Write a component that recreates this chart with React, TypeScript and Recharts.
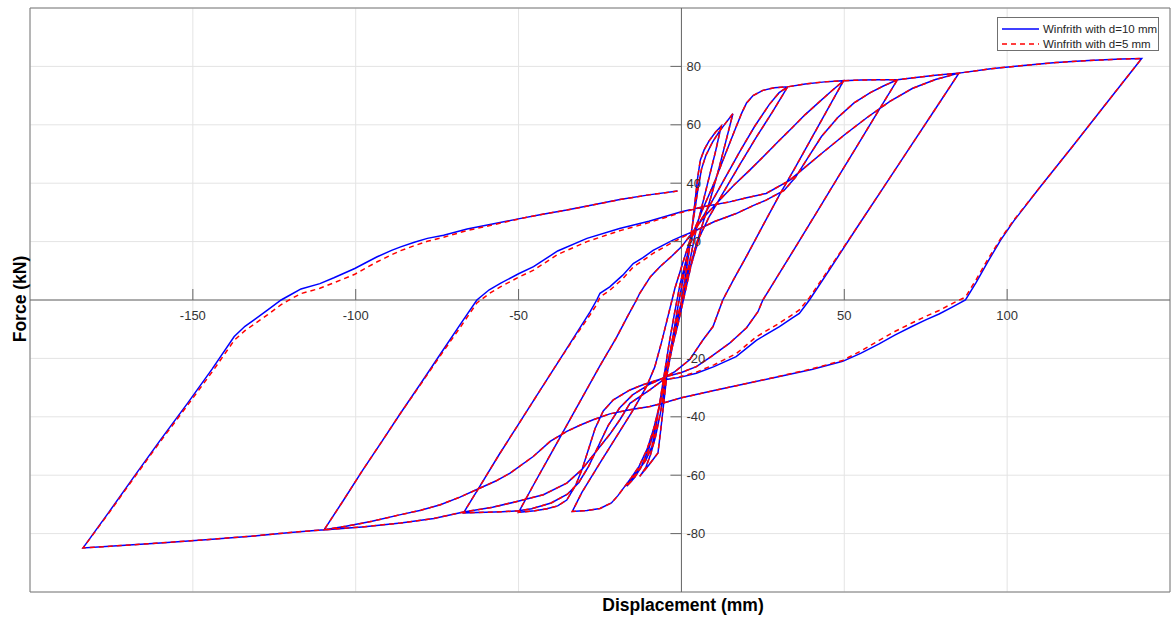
import React from 'react';
import { LineChart, Line, XAxis, YAxis, CartesianGrid, ReferenceLine, ReferenceArea } from 'recharts';

type P = [number, number];

const xTicks = [-150, -100, -50, 0, 50, 100];
const yTicks = [-80, -60, -40, -20, 0, 20, 40, 60, 80];
const xDomain: [number, number] = [-200, 150];
const yDomain: [number, number] = [-100, 100];
const seriesNames = ['Winfrith with d=10 mm', 'Winfrith with d=5 mm'];

// ---- d=10 mm branches (displacement mm, force kN) ----
const L0: P[] = [[0,0],[1.5,10],[3,22],[4.2,34],[5,42],[5.8,47.9],[7,51.5],[8.5,54.5],[10.5,57.5],[12.2,59.5]];
const U1: P[] = [[12.2,59.5],[10.5,51],[8.5,42],[6.5,33],[4.5,24],[2.5,13],[0.5,2],[-1.5,-9],[-3.5,-20],[-5,-29],[-6.5,-39],[-8,-47],[-9.5,-53],[-11,-57.5],[-12.8,-60.4]];
const R1: P[] = [[-12.8,-60.4],[-10,-56.5],[-7.2,-52.4],[-6.3,-44],[-5.4,-35],[-4.5,-26],[-3,-15],[-1.2,-3],[0.8,9],[2.6,20],[4,30],[5.2,39],[6.2,45],[7.5,49.5],[9.5,54],[11.5,57.5],[13.5,60.5],[15.8,63.8]];
const U2: P[] = [[15.8,63.8],[13.8,55],[11.5,45],[9,35],[6.5,26],[4,17],[1.5,6],[-1,-5],[-3,-15],[-4.8,-25],[-6.3,-34],[-8,-43],[-10,-51],[-12.5,-57.5],[-14.5,-61],[-16.8,-63.8]];
const R2: P[] = [[-16.8,-63.8],[-14,-59.5],[-11,-55],[-9,-50],[-7.8,-43],[-6.5,-34],[-5.2,-25],[-3.8,-15],[-2.2,-5],[-0.5,5],[1.5,14],[3.6,23],[6.5,31],[10,40],[13.5,50],[16.5,58.5],[18.5,64],[20,67.5],[22,70],[25,71.8],[28.5,72.7],[32.6,73]];
const U3: P[] = [[32.6,73],[28,64.5],[23,55.8],[18,46.5],[12.7,36.5],[8.5,28.5],[5.5,21.5],[3,12],[1,2],[-1,-8],[-3,-17],[-4.8,-26],[-6.5,-35],[-8.5,-44],[-10.5,-51],[-13,-57],[-15.5,-61],[-17.5,-64],[-19.5,-67],[-21.5,-69.5],[-25,-71.4],[-29,-72.1],[-33.5,-72.4]];
const R3: P[] = [[-33.5,-72.4],[-30.6,-66],[-25,-55.8],[-19.9,-46.7],[-14.8,-37.6],[-10.7,-29.6],[-8.2,-23],[-6,-14],[-4,-5],[-2,4],[0.5,13],[2.5,20],[5,25.5],[9,33],[13.5,42],[18,51],[22.5,59.5],[27,67],[30,71],[32.6,73],[38,74],[44,74.7],[49.8,75.1]];
const U4: P[] = [[49.8,75.1],[45,65.5],[40,55.5],[35,45.5],[30.1,36],[25,25.5],[20,15],[16,7],[12.7,0],[9.7,-9.1],[6.6,-13.7],[2.5,-20.5],[-2,-24.5],[-5.6,-26.8],[-11.8,-29],[-15.8,-30.8],[-20.9,-34.2],[-24,-38],[-26.5,-44],[-28.5,-51],[-30.5,-58],[-32.5,-63.5],[-35.2,-68.5],[-38,-70.5],[-41.3,-71.5],[-45,-72.2],[-50,-72.7]];
const R4: P[] = [[-50,-72.7],[-45,-62.5],[-40,-52.5],[-35,-42.5],[-30,-32.5],[-25,-22.5],[-20,-13],[-16.5,-5.5],[-13.8,0],[-12.8,2.3],[-9.5,8],[-6.6,11.4],[-3,15],[0,18.2],[3.6,23.5],[7,28.5],[11.7,34.2],[16,39.2],[20.9,44.4],[25.5,49.5],[30.1,54.7],[34,59],[38,63.5],[42,67.5],[46,71.5],[49.8,75.1],[55,75.3],[60.5,75.4],[66.3,75.4]];
const U5: P[] = [[66.3,75.4],[60,63.9],[54,52.9],[48,41.9],[42,30.9],[36,19.9],[30,9],[25,0],[23.5,-4],[20,-9.5],[14.8,-14.8],[9,-19.5],[4.6,-22.8],[0,-24.8],[-4.6,-26.2],[-10,-29],[-15,-32.5],[-19,-37],[-22.5,-43],[-25.5,-50],[-28.5,-57],[-31.5,-62.5],[-35,-66.5],[-40,-69.5],[-46,-71.5],[-50,-72.2],[-55,-72.5],[-60,-72.7],[-66.9,-72.9]];
const R5: P[] = [[-66.9,-72.9],[-62,-64],[-56,-53],[-50,-42.5],[-44,-32],[-38,-21.5],[-32,-11],[-28,-4],[-26,0],[-25,2.3],[-22,4.5],[-18,8.5],[-14.8,12.5],[-11.8,14.5],[-8.7,17],[-2.6,20.5],[0,21.8],[4.6,23.9],[10,26.8],[16.8,29.6],[22,32.3],[26,34.2],[31.5,37.5],[35,42],[39,49],[43,56],[48,62.5],[53,67.5],[58,71],[62,73.3],[66.3,75.4],[72,76.2],[78,77],[85.2,77.7]];
const U6: P[] = [[85.2,77.7],[78,65.5],[70,52],[62,38.5],[54,25],[46,11.3],[39.3,0],[36.2,-4.6],[34.2,-6],[30.1,-9.1],[23,-13.8],[16.8,-19.4],[10,-22.8],[4.6,-25.1],[-0.5,-26.5],[-5.6,-27.4],[-9.7,-30.8],[-15.8,-35.4],[-18.9,-41],[-22,-46],[-25,-50.2],[-30.6,-58.1],[-35.2,-62.7],[-42.4,-66.7],[-50.5,-69],[-58,-71],[-66.9,-72.6],[-76,-74.8],[-86.2,-76.4],[-98,-77.7],[-109.7,-78.7]];
const R6: P[] = [[-109.7,-78.7],[-104,-69],[-98,-58.5],[-92,-48.5],[-86.2,-38.7],[-80,-28.5],[-74,-18.5],[-68,-8.5],[-62.8,0],[-59,3.5],[-55.6,5.7],[-50,9],[-45.4,11.4],[-38,16.8],[-29,21.1],[-19,24.5],[-10,27],[0,30.2],[7,32],[14.8,33.6],[20,35],[26,36.5],[33.2,41],[38,45.5],[43.4,50.5],[50,56.5],[57,62.5],[64,68],[71,72.5],[78,75.5],[85.2,77.7],[95,79.2],[105,80.3],[115,81.3],[125,82],[135,82.5],[141.3,82.7]];
const U7: P[] = [[141.3,82.7],[130,66.7],[120,52.5],[110,38.5],[102,27],[98,20.5],[94,13],[90.5,6],[87.2,0],[83,-2.5],[79.1,-4.8],[75,-6.8],[70.9,-9],[65.5,-12],[60.7,-15],[55,-18.3],[49.5,-21],[40,-23.8],[30.1,-26.2],[20,-28.6],[10,-31],[0,-33.5],[-5.6,-35.3],[-9.7,-36.5],[-15.8,-37.6],[-22,-39],[-27.1,-41],[-31,-42.8],[-35.2,-45],[-40.3,-48.4],[-45.5,-53.6],[-52.6,-59.3],[-57,-62],[-61.8,-64.4],[-68,-67.5],[-74,-70.1],[-80,-72],[-86.2,-73.5],[-95,-75.8],[-103,-77.5],[-109.7,-78.7],[-120,-79.6],[-131.2,-80.8],[-145,-82],[-160,-83.2],[-172,-84.1],[-183.7,-84.9]];
const R7: P[] = [[-183.7,-84.9],[-176,-73],[-168,-60.4],[-160,-48],[-151.6,-35.3],[-144,-23.5],[-137.3,-12.5],[-134,-9],[-131.2,-6.8],[-127,-3.4],[-122.9,0],[-120,1.8],[-116.8,3.8],[-111,5.6],[-106.7,7.6],[-100.3,10.8],[-96.5,13],[-93.4,14.8],[-89,17],[-86.2,18.2],[-82,19.8],[-78,21.1],[-73,22.2],[-65.8,24.3],[-58,26],[-50.5,27.7],[-43,29.3],[-35.2,30.8],[-27,32.6],[-18.9,34.4],[-10,36],[-1.2,37.3]];

// ---- d=5 mm branches that differ visibly from d=10 mm ----
const R5b: P[] = [[-66.9,-72.9],[-62,-64],[-56,-53],[-50,-42.5],[-44,-32],[-38,-21.5],[-32,-11.5],[-28,-5],[-26,-1.5],[-25,1],[-22,3.3],[-18,7.3],[-14.8,11.3],[-11.8,13.5],[-8.7,16],[-2.6,19.8],[0,21.3],[4.6,23.9],[10,26.8],[16.8,29.6],[22,32.3],[26,34.2],[31.5,37.5],[35,42],[39,49],[43,56],[48,62.5],[53,67.5],[58,71],[62,73.3],[66.3,75.4],[72,76.2],[78,77],[85.2,77.7]];
const U6b: P[] = [[85.2,77.7],[78,65.5],[70,52],[62,38.5],[54,25],[46,11.8],[39.3,0.8],[36.2,-3.4],[34.2,-4.9],[30.1,-7.9],[23,-12.6],[16.8,-18.4],[10,-22.2],[4.6,-24.7],[-0.5,-26.3],[-5.6,-27.4],[-9.7,-30.8],[-15.8,-35.4],[-18.9,-41],[-22,-46],[-25,-50.2],[-30.6,-58.1],[-35.2,-62.7],[-42.4,-66.7],[-50.5,-69],[-58,-71],[-66.9,-72.6],[-76,-74.8],[-86.2,-76.4],[-98,-77.7],[-109.7,-78.7]];
const R6b: P[] = [[-109.7,-78.7],[-104,-69],[-98,-58.5],[-92,-48.5],[-86.2,-38.7],[-80,-28.8],[-74,-19],[-68,-9.5],[-62.8,-1],[-59,2.2],[-55.6,4.5],[-50,7.8],[-45.4,10.2],[-38,15.6],[-29,20],[-19,23.7],[-10,26.5],[0,30],[7,32],[14.8,33.6],[20,35],[26,36.5],[33.2,41],[38,45.5],[43.4,50.5],[50,56.5],[57,62.5],[64,68],[71,72.5],[78,75.5],[85.2,77.7],[95,79.2],[105,80.3],[115,81.3],[125,82],[135,82.5],[141.3,82.7]];
const U7b: P[] = [[141.3,82.7],[130,66.7],[120,52.5],[110,38.5],[102,27.3],[98,21],[94,13.8],[90.5,7],[87.2,1],[83,-1.3],[79.1,-3.6],[75,-5.6],[70.9,-7.8],[65.5,-10.8],[60.7,-13.8],[55,-17.5],[49.5,-20.7],[40,-23.6],[30.1,-26.1],[20,-28.6],[10,-31],[0,-33.5],[-5.6,-35.3],[-9.7,-36.5],[-15.8,-37.6],[-22,-39],[-27.1,-41],[-31,-42.8],[-35.2,-45],[-40.3,-48.4],[-45.5,-53.6],[-52.6,-59.3],[-57,-62],[-61.8,-64.4],[-68,-67.5],[-74,-70.1],[-80,-72],[-86.2,-73.5],[-95,-75.8],[-103,-77.5],[-109.7,-78.7],[-120,-79.6],[-131.2,-80.8],[-145,-82],[-160,-83.2],[-172,-84.1],[-183.7,-84.9]];
const R7b: P[] = [[-183.7,-84.9],[-176,-73.3],[-168,-60.8],[-160,-48.5],[-151.6,-36],[-144,-24.5],[-137.3,-13.8],[-134,-10.5],[-131.2,-8.3],[-127,-5],[-122.9,-1.6],[-120,0.3],[-116.8,2.2],[-111,4],[-106.7,5.9],[-100.3,8.8],[-96.5,11.2],[-93.4,13.1],[-89,15.5],[-86.2,16.9],[-82,18.6],[-78,20.1],[-73,21.5],[-65.8,23.8],[-58,25.7],[-50.5,27.6],[-43,29.3],[-35.2,30.8],[-27,32.6],[-18.9,34.4],[-10,36],[-1.2,37.3]];

const join = (branches: P[][]) =>
  branches.flatMap((b, i) => (i === 0 ? b : b.slice(1))).map(([x, y]) => ({ x, y }));

const d10 = join([L0, U1, R1, U2, R2, U3, R3, U4, R4, U5, R5, U6, R6, U7, R7]);
const d5 = join([L0, U1, R1, U2, R2, U3, R3, U4, R4, U5, R5b, U6b, R6b, U7b, R7b]);

// layout
const W = 1171;
const H = 619;
const AXIS_B = 27;
const AXIS_L = 30;
const M = { top: 8, right: 1, bottom: 0, left: 0 };
const PW = W - AXIS_L - M.right;
const PH = H - M.top - AXIS_B;
const OX = AXIS_L + (PW * (0 - xDomain[0])) / (xDomain[1] - xDomain[0]);
const OY = M.top + (PH * (yDomain[1] - 0)) / (yDomain[1] - yDomain[0]);
const FONT = '"Liberation Sans", Arial, Helvetica, sans-serif';
const AX = '#666666';
const TXT = '#333333';

const renderXTick = (props: any) => {
  const { x, payload } = props;
  if (payload.value === 0) return <g />;
  return (
    <g>
      <line x1={x} x2={x} y1={OY - 11} y2={OY} stroke={AX} strokeWidth={1} />
      <text x={x} y={OY + 15} textAnchor="middle" dominantBaseline="central" fontSize={13} fill={TXT} fontFamily={FONT}>
        {payload.value}
      </text>
    </g>
  );
};

const renderYTick = (props: any) => {
  const { y, payload } = props;
  if (payload.value === 0) return <g />;
  return (
    <g>
      <line x1={OX - 11} x2={OX} y1={y} y2={y} stroke={AX} strokeWidth={1} />
      <text x={OX + 5} y={y} textAnchor="start" dominantBaseline="central" fontSize={13} fill={TXT} fontFamily={FONT}>
        {payload.value}
      </text>
    </g>
  );
};

export default function App() {
  return (
    <div style={{ position: 'absolute', left: 0, top: 0, width: W, height: H, background: '#fff' }}>
      <LineChart width={W} height={H} margin={M}>
        <CartesianGrid stroke="#e4e4e4" strokeWidth={1} />
        <XAxis
          type="number"
          dataKey="x"
          domain={xDomain}
          ticks={xTicks}
          allowDataOverflow
          axisLine={false}
          tickLine={false}
          height={AXIS_B}
          tick={renderXTick}
          interval={0}
        />
        <YAxis
          type="number"
          dataKey="y"
          domain={yDomain}
          ticks={yTicks}
          allowDataOverflow
          axisLine={false}
          tickLine={false}
          width={AXIS_L}
          tick={renderYTick}
          interval={0}
        />
        <ReferenceLine x={0} stroke={AX} strokeWidth={1} />
        <ReferenceLine y={0} stroke={AX} strokeWidth={1} />
        <ReferenceArea x1={xDomain[0]} x2={xDomain[1]} y1={yDomain[0]} y2={yDomain[1]} fill="none" fillOpacity={0} stroke="#7a7a7a" strokeWidth={1} ifOverflow="visible" />
        <Line data={d10} dataKey="y" name={seriesNames[0]} type="linear" stroke="#0000ff" strokeWidth={1.5} dot={false} activeDot={false} isAnimationActive={false} />
        <Line data={d5} dataKey="y" name={seriesNames[1]} type="linear" stroke="#ff0000" strokeWidth={1.5} strokeDasharray="5 4" dot={false} activeDot={false} isAnimationActive={false} />
      </LineChart>

      {/* Legend */}
      <div style={{ position: 'absolute', left: 997, top: 17, width: 162, height: 34, border: '1px solid #707070', background: '#fff', boxSizing: 'border-box', fontFamily: FONT, fontSize: 11.5, color: '#262626' }}>
        <svg width={40} height={34} style={{ position: 'absolute', left: 2, top: 0 }}>
          <line x1={2} x2={39} y1={11} y2={11} stroke="#0000ff" strokeWidth={1.5} />
          <line x1={2} x2={39} y1={26} y2={26} stroke="#ff0000" strokeWidth={1.5} strokeDasharray="5 4" />
        </svg>
        <div style={{ position: 'absolute', left: 45, top: 4, whiteSpace: 'nowrap', lineHeight: '14px' }}>{seriesNames[0]}</div>
        <div style={{ position: 'absolute', left: 45, top: 19, whiteSpace: 'nowrap', lineHeight: '14px' }}>{seriesNames[1]}</div>
      </div>

      {/* Axis titles */}
      <div style={{ position: 'absolute', left: 483, width: 400, top: 594, textAlign: 'center', fontFamily: FONT, fontWeight: 'bold', fontSize: 17.5, color: '#000', lineHeight: '22px' }}>
        Displacement (mm)
      </div>
      <div style={{ position: 'absolute', left: 20, top: 299, width: 0, height: 0 }}>
        <div style={{ position: 'absolute', left: -100, top: -11, width: 200, textAlign: 'center', transform: 'rotate(-90deg)', fontFamily: FONT, fontWeight: 'bold', fontSize: 17.5, color: '#000', lineHeight: '22px' }}>
          Force (kN)
        </div>
      </div>
    </div>
  );
}
